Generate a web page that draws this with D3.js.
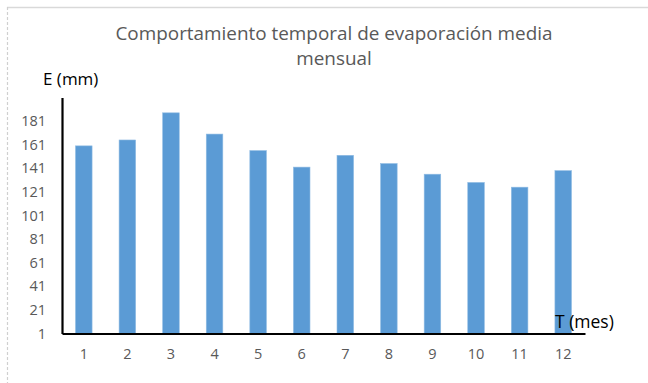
<!DOCTYPE html>
<html>
<head>
<meta charset="utf-8">
<script src="https://cdn.jsdelivr.net/npm/d3@7"></script>
<style>
  html, body { margin: 0; padding: 0; background: #fff; }
  svg { display: block; }
  text { font-family: "Open Sans", "Noto Sans", sans-serif; }
</style>
</head>
<body>
<svg id="chart" width="648" height="383"></svg>
<script>
// Monthly mean evaporation, E (mm)
const months = ["1", "2", "3", "4", "5", "6", "7", "8", "9", "10", "11", "12"];
const evaporation = [160, 165, 188, 170, 156, 142, 152, 145, 136, 129, 125, 139];
const yTicks = [1, 21, 41, 61, 81, 101, 121, 141, 161, 181];
const yDomain = [1, 201];
const titleLines = ["Comportamiento temporal de evaporación media", "mensual"];
const yLabel = "E (mm)";
const xLabel = "T (mes)";

const svg = d3.select("#chart");
const W = 648, H = 383;
const margin = { left: 62, right: 63, top: 97.5, bottom: 49.5 };

// chart frame (top and dashed left edge)
svg.append("line").attr("x1", 7).attr("x2", W).attr("y1", 7.5).attr("y2", 7.5)
  .attr("stroke", "#d9d9d9").attr("stroke-width", 1.5);
svg.append("line").attr("x1", 7.5).attr("x2", 7.5).attr("y1", 7).attr("y2", H)
  .attr("stroke", "#d0d0d0").attr("stroke-width", 1.2).attr("stroke-dasharray", "3,2");

const x = d3.scaleBand()
  .domain(months)
  .range([margin.left, W - margin.right])
  .paddingInner(0.62)
  .paddingOuter(0.31);

const y = d3.scaleLinear()
  .domain(yDomain)
  .range([H - margin.bottom, margin.top]);

// bars
svg.append("g").selectAll("rect")
  .data(evaporation)
  .join("rect")
  .attr("x", (d, i) => x(months[i]))
  .attr("y", d => y(d))
  .attr("width", x.bandwidth())
  .attr("height", d => y(yDomain[0]) - y(d))
  .attr("fill", "#5b9bd5")
  .attr("stroke", "#8fbbe3")
  .attr("stroke-width", 0.6);

// y axis
const yAxis = d3.axisLeft(y).tickValues(yTicks).tickSize(0).tickPadding(16);
const gy = svg.append("g").attr("transform", `translate(${margin.left},0)`).call(yAxis);
gy.select(".domain").attr("stroke", "#000").attr("stroke-width", 2.2);
gy.selectAll(".tick text")
  .attr("fill", "#595959")
  .style("font-size", "14.5px")
  .style("font-family", "'Open Sans', sans-serif");

// x axis
const xAxis = d3.axisBottom(x).tickSize(0).tickPadding(15);
const gx = svg.append("g").attr("transform", `translate(0,${y(yDomain[0])})`).call(xAxis);
gx.select(".domain").attr("stroke", "#000").attr("stroke-width", 2.2);
gx.selectAll(".tick text")
  .attr("fill", "#595959")
  .style("font-size", "14.5px")
  .style("font-family", "'Open Sans', sans-serif");

// title
const title = svg.append("text")
  .attr("text-anchor", "middle")
  .attr("fill", "#595959")
  .style("font-size", "18.9px");
titleLines.forEach((t, i) => {
  title.append("tspan").attr("x", 334).attr("y", 40 + i * 25).text(t);
});

// axis titles
svg.append("text").attr("x", 43).attr("y", 85)
  .attr("fill", "#000").style("font-size", "17px").text(yLabel);
svg.append("text").attr("x", 555).attr("y", 328)
  .attr("fill", "#000").style("font-size", "17.5px").text(xLabel);
</script>
</body>
</html>
